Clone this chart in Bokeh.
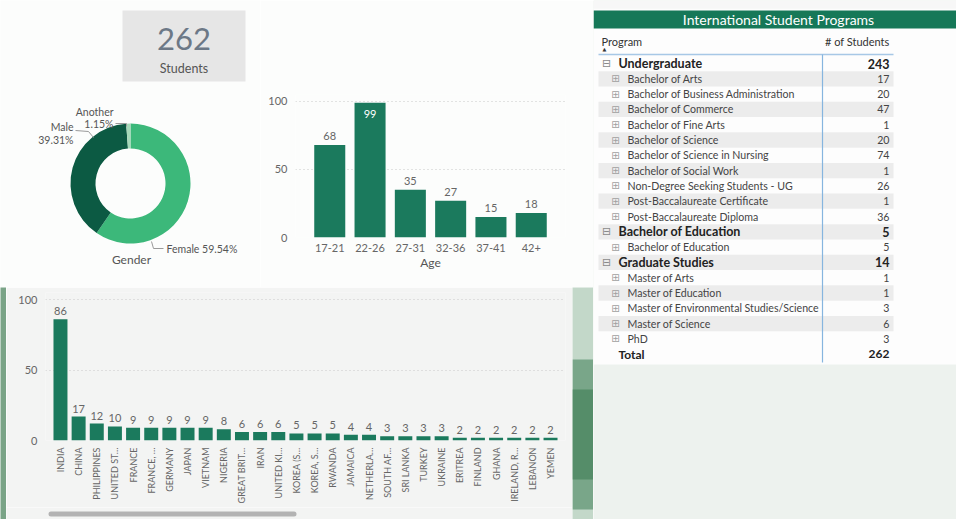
import numpy as np
from bokeh.plotting import figure
from bokeh.models import ColumnDataSource, Range1d, FactorRange, FixedTicker, Label, BoxAnnotation
from bokeh.layouts import row, column
from bokeh.core.properties import value
from bokeh.embed import file_html
from bokeh.resources import INLINE

# ---------------- data ----------------
total_students = 262

gender_labels = ["Female", "Male", "Another"]
gender_pct = [59.54, 39.31, 1.15]

age_groups = ["17-21", "22-26", "27-31", "32-36", "37-41", "42+"]
age_counts = [68, 99, 35, 27, 15, 18]

countries = ["INDIA", "CHINA", "PHILIPPINES", "UNITED ST…", "FRANCE", "FRANCE, …",
             "GERMANY", "JAPAN", "VIETNAM", "NIGERIA", "GREAT BRIT…", "IRAN",
             "UNITED KI…", "KOREA (S…", "KOREA, S…", "RWANDA", "JAMAICA", "NETHERLA…",
             "SOUTH AF…", "SRI LANKA", "TURKEY", "UKRAINE", "ERITREA", "FINLAND",
             "GHANA", "IRELAND, R…", "LEBANON", "YEMEN"]
country_counts = [86, 17, 12, 10, 9, 9, 9, 9, 9, 8, 6, 6, 6, 5, 5, 5, 4, 4,
                  3, 3, 3, 3, 2, 2, 2, 2, 2, 2]

program_groups = ["Undergraduate", "Bachelor of Education", "Graduate Studies"]
group_totals = [243, 5, 14]
programs = ["Bachelor of Arts", "Bachelor of Business Administration", "Bachelor of Commerce",
            "Bachelor of Fine Arts", "Bachelor of Science", "Bachelor of Science in Nursing",
            "Bachelor of Social Work", "Non-Degree Seeking Students - UG",
            "Post-Baccalaureate Certificate", "Post-Baccalaureate Diploma",
            "Bachelor of Education",
            "Master of Arts", "Master of Education", "Master of Environmental Studies/Science",
            "Master of Science", "PhD"]
program_group = ["Undergraduate"] * 10 + ["Bachelor of Education"] + ["Graduate Studies"] * 5
program_counts = [17, 20, 47, 1, 20, 74, 1, 26, 1, 36, 5, 1, 1, 3, 6, 3]

# ---------------- styles ----------------
FONT = "Lato"
BAR = "#1b7a5d"
TITLE_GREEN = "#167858"
GENDER_COLORS = ["#3cb87a", "#0c5a43", "#a6d9b9"]
TXT = "#666666"
BG_TOP = "#fcfdfc"
PANEL = "#f3f4f3"


def blank(fig, bg):
    fig.outline_line_color = None
    fig.background_fill_color = bg
    fig.border_fill_color = bg
    fig.grid.visible = False
    return fig


def box(**kw):
    kw.setdefault("fill_alpha", 1)
    kw.setdefault("line_color", None)
    return BoxAnnotation(level="underlay", **kw)


# ---------------- card + donut ----------------
cd = figure(width=260, height=287, x_range=Range1d(0, 260), y_range=Range1d(0, 287),
            output_backend="svg", toolbar_location=None, min_border=0,
            x_axis_location=None, y_axis_location=None)
blank(cd, BG_TOP)

cd.add_layout(box(left=122, right=245, bottom=206, top=277, fill_color="#e6e6e6"))
cd.add_layout(Label(x=183.5, y=249, text=str(total_students), text_align="center",
                    text_baseline="middle", text_font=FONT, text_font_size="31px",
                    text_color="#6c7886"))
cd.add_layout(Label(x=183.5, y=219, text="Students", text_align="center",
                    text_baseline="middle", text_font=FONT, text_font_size="12.5px",
                    text_color="#555555"))

frac = np.array(gender_pct) / 100.0
cum = np.concatenate([[0.0], np.cumsum(frac)])
gsrc = ColumnDataSource(dict(
    label=gender_labels, pct=gender_pct, color=GENDER_COLORS,
    start=np.pi / 2 - cum[:-1] * 2 * np.pi,
    end=np.pi / 2 - cum[1:] * 2 * np.pi,
))
cx, cy = 130, 104
cd.annular_wedge(x=cx, y=cy, inner_radius=35, outer_radius=60, start_angle="start",
                 end_angle="end", direction="clock", fill_color="color", line_color=None,
                 source=gsrc)

lbl = dict(text_font=FONT, text_font_size="10.5px", text_color="#555555", text_baseline="middle")
pct_txt = {g: f"{p:.2f}%" for g, p in zip(gender_labels, gender_pct)}
cd.add_layout(Label(x=113, y=176, text="Another", text_align="right", **lbl))
cd.add_layout(Label(x=113, y=164, text=pct_txt["Another"], text_align="right", **lbl))
cd.add_layout(Label(x=73, y=161, text="Male", text_align="right", **lbl))
cd.add_layout(Label(x=73, y=148, text=pct_txt["Male"], text_align="right", **lbl))
cd.add_layout(Label(x=166, y=39, text="Female " + pct_txt["Female"], text_align="left", **lbl))
cd.add_layout(Label(x=131, y=28, text="Gender", text_align="center", text_baseline="middle",
                    text_font=FONT, text_font_size="12px", text_color="#555555"))
lead = dict(line_color="#9a9a9a", line_width=1)
cd.line([115, 126, 126], [164, 164, 161], **lead)
cd.line([75, 88, 93], [157, 156, 150], **lead)
cd.line([151, 153, 163], [46, 39, 39], **lead)

# ---------------- age chart ----------------
af = figure(width=333, height=287,
            x_range=FactorRange(*age_groups, range_padding=0.35, range_padding_units="absolute"),
            y_range=Range1d(0, 105), output_backend="svg", toolbar_location=None,
            min_border_left=35, min_border_right=28, min_border_top=94, min_border_bottom=50)
blank(af, BG_TOP)
af.ygrid.visible = True
af.ygrid.grid_line_color = "#c9c9c9"
af.ygrid.grid_line_dash = "1 3"
af.yaxis.ticker = FixedTicker(ticks=[0, 50, 100])
for ax in (af.xaxis, af.yaxis):
    ax.axis_line_color = None
    ax.major_tick_line_color = None
    ax.minor_tick_line_color = None
    ax.major_label_text_font = FONT
    ax.major_label_text_color = TXT
    ax.major_label_text_font_size = "11px"
af.yaxis.major_label_standoff = 2
af.xaxis.major_label_standoff = 0
af.xaxis.axis_label = "Age"
af.xaxis.axis_label_text_font = FONT
af.xaxis.axis_label_text_font_style = "normal"
af.xaxis.axis_label_text_font_size = "12px"
af.xaxis.axis_label_text_color = "#555555"
af.xaxis.axis_label_standoff = 0

inside = [c / 105 > 0.88 for c in age_counts]
asrc = ColumnDataSource(dict(
    age=age_groups, count=age_counts, text=[str(c) for c in age_counts],
    tcolor=["#ffffff" if i else TXT for i in inside],
    base=["top" if i else "bottom" for i in inside],
    yoff=[7 if i else -5 for i in inside],
))
af.vbar(x="age", top="count", width=0.77, fill_color=BAR, line_color=None, source=asrc)
af.text(x="age", y="count", text="text", text_color="tcolor", text_baseline="base",
        y_offset="yoff", text_align="center", text_font=value(FONT), text_font_size="11px",
        source=asrc)

# ---------------- country chart ----------------
cf = figure(width=566, height=220,
            x_range=FactorRange(*countries, range_padding=0.325, range_padding_units="absolute"),
            y_range=Range1d(0, 105), output_backend="svg", toolbar_location=None,
            min_border_left=39, min_border_right=7, min_border_top=5, min_border_bottom=67)
blank(cf, PANEL)
cf.ygrid.visible = True
cf.ygrid.grid_line_color = "#c9c9c9"
cf.ygrid.grid_line_dash = "1 3"
cf.yaxis.ticker = FixedTicker(ticks=[0, 50, 100])
for ax in (cf.xaxis, cf.yaxis):
    ax.axis_line_color = None
    ax.major_tick_line_color = None
    ax.minor_tick_line_color = None
    ax.major_label_text_font = FONT
    ax.major_label_text_color = TXT
cf.yaxis.major_label_text_font_size = "11px"
cf.yaxis.major_label_standoff = 2
cf.xaxis.major_tick_out = 0
cf.xaxis.major_tick_in = 0
cf.xaxis.major_label_text_font_size = "9px"
cf.xaxis.major_label_orientation = np.pi / 2
cf.xaxis.major_label_standoff = 7

csrc = ColumnDataSource(dict(country=countries, count=country_counts,
                             text=[str(c) for c in country_counts]))
cf.vbar(x="country", top="count", width=0.77, fill_color=BAR, line_color=None, source=csrc)
cf.text(x="country", y="count", text="text", text_color=TXT, text_baseline="bottom",
        y_offset=-4, text_align="center", text_font=value(FONT), text_font_size="11px",
        source=csrc)

# scrollbar strip
sf = figure(width=566, height=12, x_range=Range1d(6, 572), y_range=Range1d(0, 12),
            output_backend="svg", toolbar_location=None, min_border=0,
            x_axis_location=None, y_axis_location=None)
blank(sf, PANEL)
sf.add_layout(BoxAnnotation(left=48, right=296, bottom=3, top=8, fill_color="#b3b3b3",
                            fill_alpha=1, line_color=None, border_radius=3))

# green watercolor strips
lf = figure(width=6, height=232, x_range=Range1d(0, 6), y_range=Range1d(0, 232),
            output_backend="svg", toolbar_location=None, min_border=0,
            x_axis_location=None, y_axis_location=None)
blank(lf, "#7aa487")

gf = figure(width=21, height=232, x_range=Range1d(0, 21), y_range=Range1d(0, 232),
            output_backend="svg", toolbar_location=None, min_border=0,
            x_axis_location=None, y_axis_location=None)
blank(gf, "#c3d8c9")
gf.add_layout(box(bottom=10, top=160, fill_color="#79a689"))
gf.add_layout(box(bottom=40, top=130, fill_color="#558d69"))

# ---------------- program table ----------------
ROW_Y0, ROW_H = 63.0, 15.3


def ry(Y):
    return (Y - ROW_Y0) / ROW_H


tf = figure(width=363, height=519, x_range=Range1d(0, 363), y_range=Range1d(ry(519), ry(0)),
            output_backend="svg", toolbar_location=None, min_border=0,
            x_axis_location=None, y_axis_location=None)
blank(tf, "#edf2ee")
tf.add_layout(box(left=0, right=363, top=ry(0), bottom=ry(8), fill_color="#f7f7f7"))
tf.add_layout(box(left=0, right=363, top=ry(8), bottom=ry(364), fill_color="#fdfdfd"))
tf.add_layout(box(left=0, right=363, top=ry(10), bottom=ry(28), fill_color=TITLE_GREEN))
tf.add_layout(Label(x=185, y=ry(19), text="International Student Programs", text_align="center",
                    text_baseline="middle", text_font=FONT, text_font_size="14px",
                    text_color="#ffffff"))
tf.add_layout(Label(x=8, y=ry(41), text="Program", text_baseline="middle", text_font=FONT,
                    text_font_size="11px", text_color="#333333"))
tf.add_layout(Label(x=11, y=ry(48.5), text="▲", text_align="center", text_baseline="middle",
                    text_font="DejaVu Sans", text_font_size="5px", text_color="#333333"))
tf.add_layout(Label(x=296, y=ry(41), text="# of Students", text_align="right",
                    text_baseline="middle", text_font=FONT, text_font_size="11px",
                    text_color="#333333"))

# build rows
row_label, row_val, row_kind = [], [], []
for g, gt in zip(program_groups, group_totals):
    row_label.append(g); row_val.append(gt); row_kind.append("group")
    for p, pg, pc in zip(programs, program_group, program_counts):
        if pg == g:
            row_label.append(p); row_val.append(pc); row_kind.append("child")
row_label.append("Total"); row_val.append(total_students); row_kind.append("total")
idx = list(range(len(row_label)))

stripe = ColumnDataSource(dict(y=[i for i in idx if i % 2 == 1 and row_kind[i] != "total"]))
tf.rect(x=152.5, y="y", width=295, height=1, fill_color="#ececec", line_color=None, source=stripe)

tf.segment(x0=[5], y0=[ry(54)], x1=[300], y1=[ry(54)], line_color="#a7c8e6", line_width=1.5)
tf.segment(x0=[229], y0=[ry(54)], x1=[229], y1=[ry(362)], line_color="#86b5df", line_width=1.2)


def sub(kind):
    ii = [i for i in idx if row_kind[i] == kind]
    return ColumnDataSource(dict(y=ii, label=[row_label[i] for i in ii],
                                 val=[str(row_val[i]) for i in ii]))


gsrc_t, csrc_t, tsrc_t = sub("group"), sub("child"), sub("total")
tf.text(x=13, y="y", text=value("⊟"), text_align="center", text_baseline="middle",
        text_font=value("DejaVu Sans"), text_font_size="11px", text_color="#8a8a8a", source=gsrc_t)
tf.text(x=22, y="y", text=value("⊞"), text_align="center", text_baseline="middle",
        text_font=value("DejaVu Sans"), text_font_size="10px", text_color="#a0a0a0", source=csrc_t)
for src, x, size, style, col in [(gsrc_t, 25, "12.5px", "bold", "#222222"),
                                 (csrc_t, 34, "10.6px", "normal", "#444444"),
                                 (tsrc_t, 25, "12px", "bold", "#222222")]:
    tf.text(x=x, y="y", text="label", text_baseline="middle", text_font=value(FONT),
            text_font_size=size, text_font_style=value(style), text_color=col, source=src)
    tf.text(x=296, y="y", text="val", text_align="right", text_baseline="middle",
            text_font=value(FONT), text_font_size=size, text_font_style=value(style),
            text_color=col, source=src)

# ---------------- layout ----------------
top = row(column(cd), column(af))
bottom = row(column(lf), column(column(cf), column(sf)), column(gf))
page = row(column(top, bottom), column(tf))

open("out.html", "w").write(file_html(page, INLINE))
